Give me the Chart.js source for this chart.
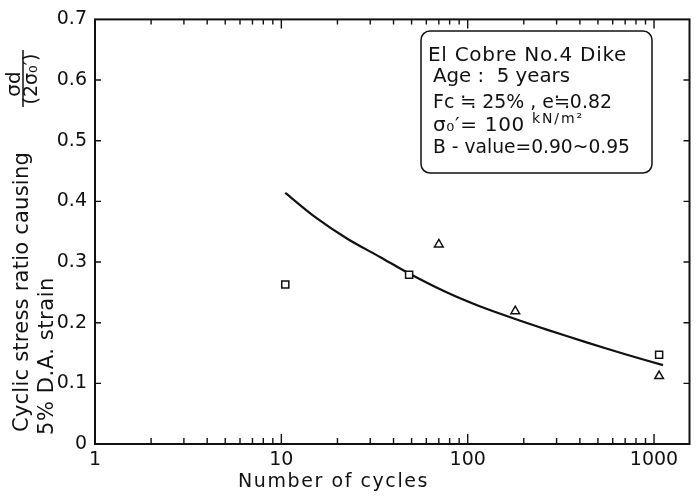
<!DOCTYPE html>
<html>
<head>
<meta charset="utf-8">
<script src="https://cdn.jsdelivr.net/npm/chart.js@4.4.0/dist/chart.umd.min.js"></script>
<style>
  html, body { margin: 0; padding: 0; background: #fff; }
  #wrap { width: 696px; height: 496px; }
</style>
</head>
<body>
<div id="wrap"><canvas id="cycChart" width="696" height="496"></canvas></div>
<script>
const squareCycles = [10.5, 48.5, 1065];
const squareRatio = [0.263, 0.279, 0.147];
const triangleCycles = [70, 180, 1065];
const triangleRatio = [0.329, 0.219, 0.112];
const curveCycles = [10.5, 15.2, 22.7, 34, 48.5, 77, 116, 180, 263, 430, 701, 1117];
const curveRatio = [0.414, 0.374, 0.338, 0.308, 0.281, 0.250, 0.227, 0.206, 0.189, 0.168, 0.148, 0.130];
const xTickValues = [1, 10, 100, 1000];
const xTickLabels = ['1', '10', '100', '1000'];
const yTickLabels = ['0', '0.1', '0.2', '0.3', '0.4', '0.5', '0.6', '0.7'];
const infoLines = ['El Cobre No.4 Dike', 'Age :  5 years', 'Fc ≒ 25% , e≒0.82', 'σ₀′= 100', 'B - value=0.90~0.95'];
const infoUnit = 'kN/m²';

const INK = '#111';
const toXY = (xs, ys) => xs.map((v, i) => ({ x: v, y: ys[i] }));

// draw text fitted to a given width (letter spacing or squeeze)
function fitText(ctx, str, x, y, width) {
    ctx.letterSpacing = '0px';
    const w = ctx.measureText(str).width;
    if (w >= width) {
        ctx.fillText(str, x, y, width);
        return;
    }
    ctx.letterSpacing = ((width - w) / str.length) + 'px';
    ctx.fillText(str, x, y);
    ctx.letterSpacing = '0px';
}

const framePlugin = {
    id: 'frame',
    afterDatasetsDraw(chart) {
        const { ctx, chartArea: a, scales: { x, y } } = chart;
        ctx.save();
        ctx.strokeStyle = INK;
        ctx.fillStyle = INK;
        ctx.lineWidth = 2;
        ctx.strokeRect(a.left, a.top, a.right - a.left, a.bottom - a.top);

        // inward ticks
        ctx.lineWidth = 1.4;
        ctx.beginPath();
        x.ticks.forEach(t => {
            const v = t.value;
            const e = Math.floor(Math.log10(v) + 1e-9);
            const s = v / Math.pow(10, e);
            if (Math.abs(s - Math.round(s)) > 1e-6) return;
            const px = x.getPixelForValue(v);
            if (px <= a.left + 1 || px >= a.right - 1) return;
            const major = Math.round(s) === 1;
            ctx.moveTo(px, a.bottom); ctx.lineTo(px, a.bottom - (major ? 10 : 6));
            ctx.moveTo(px, a.top); ctx.lineTo(px, a.top + (major ? 9 : 5));
        });
        y.ticks.forEach(t => {
            const py = y.getPixelForValue(t.value);
            if (py <= a.top + 1 || py >= a.bottom - 1) return;
            ctx.moveTo(a.left, py); ctx.lineTo(a.left + 6, py);
            ctx.moveTo(a.right, py); ctx.lineTo(a.right - 6, py);
        });
        ctx.stroke();

        // info box
        ctx.lineWidth = 1.5;
        ctx.beginPath();
        ctx.roundRect(421, 31, 231, 142, 9);
        ctx.fillStyle = '#fff';
        ctx.fill();
        ctx.stroke();
        ctx.fillStyle = INK;
        ctx.textAlign = 'left';
        ctx.textBaseline = 'alphabetic';
        ctx.font = '20px "DejaVu Sans"';
        fitText(ctx, infoLines[0], 428, 61, 199);
        fitText(ctx, infoLines[1], 433, 82, 137);
        fitText(ctx, infoLines[2], 433, 108, 179);
        fitText(ctx, infoLines[3], 433, 131, 92);
        fitText(ctx, infoLines[4], 433, 153, 197);
        ctx.font = '14px "DejaVu Sans"';
        fitText(ctx, infoUnit, 532, 123, 52);

        // x title
        ctx.font = '19px "DejaVu Sans"';
        fitText(ctx, 'Number of cycles', 238, 487, 191);

        // y title (rotated)
        ctx.save();
        ctx.rotate(-Math.PI / 2);
        ctx.textAlign = 'center';
        ctx.font = '21px "DejaVu Sans"';
        fitText(ctx, 'Cyclic stress ratio causing', -292, 28, 280);
        fitText(ctx, '5% D.A. strain', -356, 53, 158);
        ctx.font = '20px "DejaVu Sans"';
        ctx.fillText('σd', -84, 20);
        ctx.font = '19px "DejaVu Sans"';
        ctx.fillText('(2σ₀′)', -79, 37);
        ctx.restore();
        ctx.lineWidth = 1.5;
        ctx.beginPath();
        ctx.moveTo(23, 50); ctx.lineTo(23, 107);
        ctx.stroke();
        ctx.restore();
    }
};

Chart.defaults.font.family = '"DejaVu Sans"';
Chart.defaults.color = INK;

new Chart(document.getElementById('cycChart').getContext('2d'), {
    type: 'scatter',
    data: {
        datasets: [
            {
                label: 'square',
                data: toXY(squareCycles, squareRatio),
                pointStyle: 'rect',
                pointRadius: 5,
                borderWidth: 1.5,
                borderColor: INK,
                backgroundColor: '#fff',
                order: 1
            },
            {
                label: 'triangle',
                data: toXY(triangleCycles, triangleRatio),
                pointStyle: 'triangle',
                pointRadius: 5,
                borderWidth: 1.5,
                borderColor: INK,
                backgroundColor: '#fff',
                order: 1
            },
            {
                label: 'curve',
                data: toXY(curveCycles, curveRatio),
                showLine: true,
                pointRadius: 0,
                borderWidth: 2.2,
                borderColor: INK,
                tension: 0.3,
                order: 2
            }
        ]
    },
    options: {
        responsive: false,
        animation: false,
        layout: { padding: { top: 13, right: 1, left: 0, bottom: 0 } },
        plugins: {
            legend: { display: false },
            tooltip: { enabled: false }
        },
        scales: {
            x: {
                type: 'logarithmic',
                min: 1,
                max: 1550,
                grid: { display: false, drawTicks: false },
                border: { display: false },
                afterFit(scale) { scale.height = 52; },
                ticks: {
                    autoSkip: false,
                    maxRotation: 0,
                    padding: 5,
                    font: { size: 19 },
                    callback(v) {
                        const i = xTickValues.findIndex(t => Math.abs(Math.log10(v) - Math.log10(t)) < 1e-6);
                        return i >= 0 ? xTickLabels[i] : '';
                    }
                }
            },
            y: {
                min: 0,
                max: 0.7,
                grid: { display: false, drawTicks: false },
                border: { display: false },
                afterFit(scale) { scale.width = 95; },
                ticks: {
                    stepSize: 0.1,
                    padding: 8,
                    font: { size: 19 },
                    callback(v, i) { return yTickLabels[i]; }
                }
            }
        }
    },
    plugins: [framePlugin]
});
</script>
</body>
</html>
